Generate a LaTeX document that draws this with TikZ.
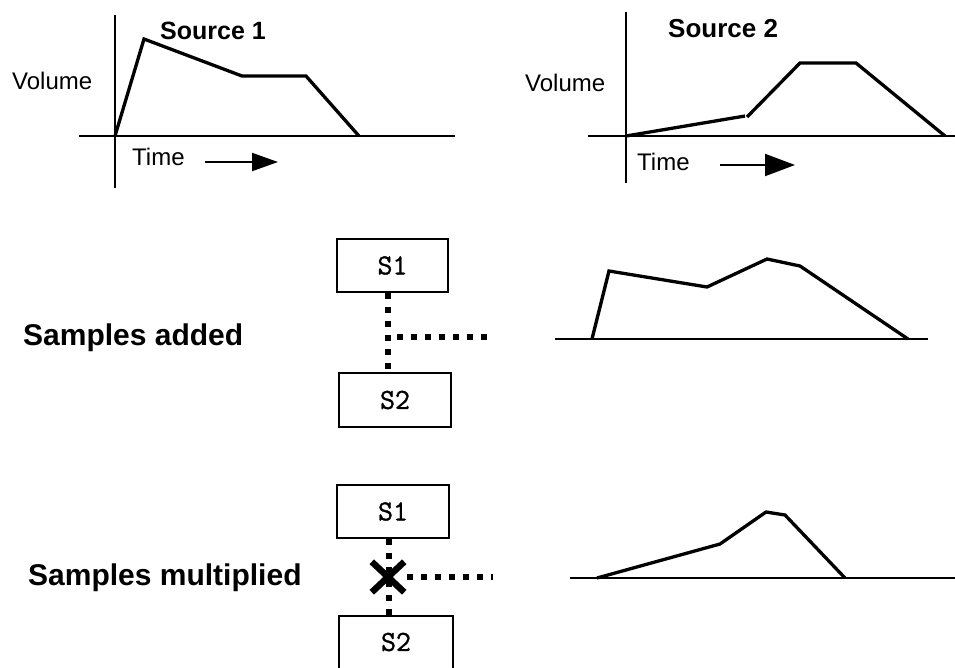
\documentclass[tikz,border=0pt]{standalone}
\usepackage{fontspec}
\setmainfont{Liberation Sans}
\newfontfamily\boxfont[FakeBold=1.2]{Latin Modern Mono}
\usetikzlibrary{arrows.meta,shapes.misc}
\begin{document}
\begin{tikzpicture}[x=1pt,y=-1pt,
  axis/.style={line width=1.8pt},
  wave/.style={line width=3.3pt, line join=miter},
  lbl/.style={anchor=base west, inner sep=0pt, font=\fontsize{24}{28}\selectfont},
  title/.style={anchor=base west, inner sep=0pt, font=\bfseries\fontsize{25}{30}\selectfont},
  big/.style={anchor=base west, inner sep=0pt, font=\bfseries\fontsize{30}{36}\selectfont},
  sbox/.style={draw, line width=1.8pt, minimum width=111pt, minimum height=53pt, inner sep=0pt, font=\boxfont\fontsize{29}{32}\selectfont},
  dots/.style={line width=6pt, dash pattern=on 6pt off 8pt},
  tarrow/.style={line width=2pt, -{Triangle[length=26pt,width=18pt]}}]
\useasboundingbox (0,0) rectangle (955,667);
% top-left graph
\draw[axis] (115,15) -- (115,188);
\draw[axis] (79,136) -- (455,136);
\draw[wave] (115,136) -- (144,39) -- (242,76) -- (306,76) -- (359,136);
\node[title] (src1) at (160,39) {Source 1};
\node[lbl] (vol1) at (12,89) {Volume};
\node[lbl] (time1) at (132,165) {Time};
\coordinate (a1s) at (205,162);
\coordinate (a1e) at (278,162);
\draw[tarrow] (a1s) -- (a1e);
% top-right graph
\draw[axis] (626,12) -- (626,183);
\draw[axis] (588,136) -- (955,136);
\draw[wave] (626,136) -- (745,116);
\draw[wave] (747,117) -- (800,63) -- (856,63) -- (945,136);
\node[anchor=base west, inner sep=0pt, font=\bfseries\fontsize{26}{30}\selectfont] (src2) at (668,37) {Source 2};
\node[lbl] (vol2) at (525,91) {Volume};
\node[lbl] (time2) at (637,170) {Time};
\coordinate (a2s) at (720,165);
\coordinate (a2e) at (795,165);
\draw[line width=2pt, -{Triangle[length=30pt,width=22pt]}] (a2s) -- (a2e);
% samples added
\node[big] (add) at (23,345) {Samples added};
\node[sbox] (s1a) at (392.5,265.5) {S1};
\node[sbox, minimum width=112pt, minimum height=54pt] (s2a) at (395,400) {S2};
\coordinate (ja) at (388,337);
\coordinate (ja2) at (397,337);
\coordinate (outa) at (492,337);
\draw[dots] (s1a.south -| ja) -- (s2a.north -| ja);
\draw[dots] (ja2) -- (outa);
\draw[axis] (555,339) -- (928,339);
\draw[wave] (592,339) -- (609,271) -- (707,287) -- (767,259) -- (800,266) -- (908,339);
% samples multiplied
\node[big] (mul) at (28,585) {Samples multiplied};
\node[sbox, minimum width=112pt] (s1m) at (393,511.5) {S1};
\node[sbox, draw=none, minimum width=112pt, minimum height=50pt] (s2m) at (396,642) {S2};
\draw[line width=1.8pt] (s2m.south west) -- (s2m.north west) -- (s2m.north east) -- (s2m.south east);
\coordinate (jm) at (389,577);
\draw[dots] (s1m.south -| jm) -- (s2m.north -| jm);
\node[cross out, draw, line width=6.5pt, minimum width=26pt, minimum height=24pt, inner sep=0pt] (xm) at (388,577) {};
\coordinate (outm) at (493,577);
\draw[dots] (xm.east) ++(3,0) coordinate (xm2) (xm2) -- (outm);
\draw[axis] (570,578) -- (955,578);
\draw[wave] (597,578) -- (720,544) -- (766,512) -- (785,515) -- (845,578);
\end{tikzpicture}
\end{document}
